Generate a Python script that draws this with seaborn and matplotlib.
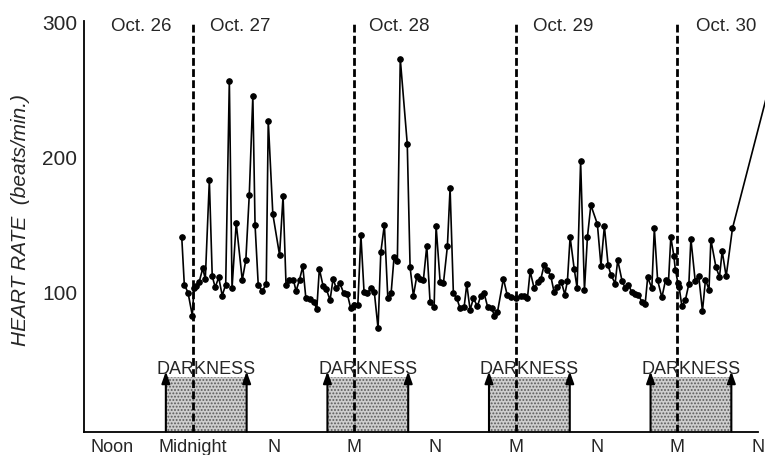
import matplotlib
matplotlib.use("Agg")
import matplotlib.pyplot as plt
import seaborn as sns
import pandas as pd

# ---------------- data ----------------
# hours measured from noon of Oct. 26
hours = [10.36, 10.74, 11.29, 11.93, 12.18, 12.44, 12.93, 13.48, 13.86, 14.46,
         14.89, 15.33, 15.85, 16.37, 16.89, 17.43, 17.83, 18.45, 19.35, 19.88,
         20.39, 20.92, 21.25, 21.72, 22.32, 22.91, 23.21, 23.89, 24.89, 25.41,
         25.85, 26.34, 26.94, 27.34, 27.86, 28.34, 28.80, 29.35, 29.99, 30.42,
         30.80, 31.35, 31.84, 32.39, 32.84, 33.31, 33.85, 34.40, 34.95, 35.44,
         35.96, 36.52, 36.97, 37.44, 37.93, 38.44, 38.97, 39.52, 39.93, 40.46,
         40.97, 41.46, 41.90, 42.39, 42.82, 43.86, 44.28, 44.77, 45.27, 45.77,
         46.26, 46.76, 47.25, 47.85, 48.14, 48.74, 49.23, 49.82, 50.22, 50.71,
         51.22, 51.71, 52.30, 52.70, 53.19, 53.69, 54.28, 54.78, 55.27, 55.82,
         56.42, 56.80, 57.25, 58.14, 58.69, 59.29, 60.00, 60.70, 61.22, 61.71,
         62.11, 62.71, 63.22, 63.70, 64.19, 64.68, 65.19, 65.68, 66.17, 66.76,
         67.26, 67.65, 68.05, 68.65, 69.09, 69.61, 70.18, 70.62, 71.13, 72.10,
         72.63, 73.14, 73.70, 74.12, 74.74, 75.12, 75.78, 76.23, 76.72, 77.22,
         77.71, 78.20, 78.71, 79.20, 79.57, 80.19, 80.56, 81.05, 81.68, 82.24,
         82.66, 83.01, 83.46, 83.68, 84.07, 84.25, 84.65, 85.18, 85.69, 85.99,
         86.63, 87.15, 87.71, 88.16, 88.68, 88.96, 89.72, 90.24, 90.64, 91.23,
         92.17, 98.00]
heart_rate = [140.0, 104.8, 98.9, 81.9, 102.0, 103.7, 106.4, 116.8, 108.9, 181.9,
              110.9, 102.8, 110.1, 96.7, 104.8, 255.8, 102.1, 150.4, 108.1, 123.0,
              171.1, 244.4, 148.9, 104.8, 99.9, 105.4, 226.3, 157.0, 126.7, 170.4,
              104.7, 108.5, 108.5, 100.0, 108.5, 118.3, 94.6, 94.1, 91.9, 86.7,
              116.5, 103.9, 101.5, 93.2, 109.1, 102.1, 105.8, 98.7, 98.0, 87.6,
              89.6, 90.0, 141.5, 99.3, 98.5, 102.0, 99.0, 72.4, 128.7, 149.1,
              95.0, 98.3, 125.4, 122.4, 272.1, 208.9, 117.6, 96.5, 110.9, 108.9,
              108.4, 133.6, 91.6, 87.9, 148.4, 106.9, 105.7, 133.1, 176.1, 98.3,
              94.6, 87.2, 87.9, 105.0, 86.1, 94.6, 88.7, 96.5, 98.5, 87.9,
              87.2, 81.7, 84.2, 109.1, 97.4, 95.9, 94.6, 96.5, 96.7, 94.6,
              114.7, 102.0, 107.0, 108.9, 119.3, 115.8, 110.9, 99.0, 102.7, 106.7,
              97.4, 107.4, 140.0, 116.7, 102.2, 196.3, 100.7, 139.8, 163.7, 149.6,
              118.9, 148.1, 119.0, 111.9, 105.6, 123.0, 107.2, 102.4, 104.8, 99.0,
              98.1, 97.0, 92.2, 90.4, 110.1, 102.2, 146.4, 108.0, 95.3, 108.4,
              106.4, 140.0, 126.1, 115.9, 105.9, 102.7, 88.9, 93.6, 105.2, 138.7,
              107.6, 111.3, 85.2, 108.5, 101.0, 138.0, 117.6, 110.5, 129.6, 110.9,
              146.5, 258.7]

tick_hours = [0, 12, 24, 36, 48, 60, 72, 84, 96]
tick_labels = ["Noon", "Midnight", "N", "M", "N", "M", "N", "M", "N"]
midnights = [12, 36, 60, 84]
dark_start = [8, 32, 56, 80]
dark_end = [20, 44, 68, 92]
day_labels = ["Oct. 26", "Oct. 27", "Oct. 28", "Oct. 29", "Oct. 30"]
day_label_pos = [4.3, 19.1, 42.6, 67.0, 91.2]
y_ticks = [50, 100, 150, 200, 250, 300]
y_tick_labels = ["", "100", "", "200", "", "300"]

# ---------------- style ----------------
sns.set_style("white")
plt.rcParams["font.family"] = ["Liberation Sans", "DejaVu Sans"]
plt.rcParams["hatch.linewidth"] = 0.9

fig = plt.figure(figsize=(7.65, 4.56), dpi=100)
ax = fig.add_axes([84 / 765, 1 - 432.5 / 456, 1 - 84 / 765, (432.5 - 19.3) / 456])

df = pd.DataFrame({"hours": hours, "rate": heart_rate})
sns.lineplot(data=df, x="hours", y="rate", ax=ax, color="black", linewidth=1.2,
             marker="o", markersize=4, markeredgecolor="black", sort=False, zorder=5)

xmin, xmax = -4.16, 97.0
ax.set_xlim(xmin, xmax)
ax.set_ylim(-4, 302)

# darkness boxes
for s, e in zip(dark_start, dark_end):
    ax.fill_between([s, e], -4, 36.5, facecolor="#cdcdcd", edgecolor="#5a5a5a",
                    hatch=".....", linewidth=0, zorder=1)
    for xa in (s, e):
        ax.annotate("", xy=(xa, 40.5), xytext=(xa, -4),
                    arrowprops=dict(arrowstyle="-|>,head_length=0.7,head_width=0.25",
                                    color="black", lw=1.5, shrinkA=0, shrinkB=0),
                    zorder=3)
    ax.text((s + e) / 2, 39.0, "DARKNESS", ha="center", va="baseline",
            fontsize=13, zorder=4)

for m in midnights:
    ax.plot([m, m], [-4, 300], color="black", lw=2.0, linestyle=(0, (2.8, 1.2)), zorder=2)

for lab, pos in zip(day_labels, day_label_pos):
    ax.text(pos, 297.0, lab, ha="center", va="center", fontsize=13.5)

ax.set_xticks(tick_hours)
ax.set_xticklabels(tick_labels, fontsize=13)
ax.set_yticks(y_ticks)
ax.set_yticklabels(y_tick_labels, fontsize=15)
ax.tick_params(axis="x", direction="in", length=11, width=1.0, pad=5, color="black")
ax.tick_params(axis="y", direction="in", length=9, width=1.2, pad=5, color="black")

for sp in ["top", "right"]:
    ax.spines[sp].set_visible(False)
for sp in ["left", "bottom"]:
    ax.spines[sp].set_color("black")
    ax.spines[sp].set_linewidth(1.3)
ax.spines["bottom"].set_bounds(xmin, 96)
ax.spines["left"].set_bounds(-4, 300)
ax.set_xlabel("")
ax.set_ylabel("")

fig.text(21 / 765, 1 - 220 / 456, "HEART RATE  (beats/min.)", rotation=90,
         ha="center", va="center", fontsize=15, style="italic")

fig.savefig("out.png", dpi=100)
